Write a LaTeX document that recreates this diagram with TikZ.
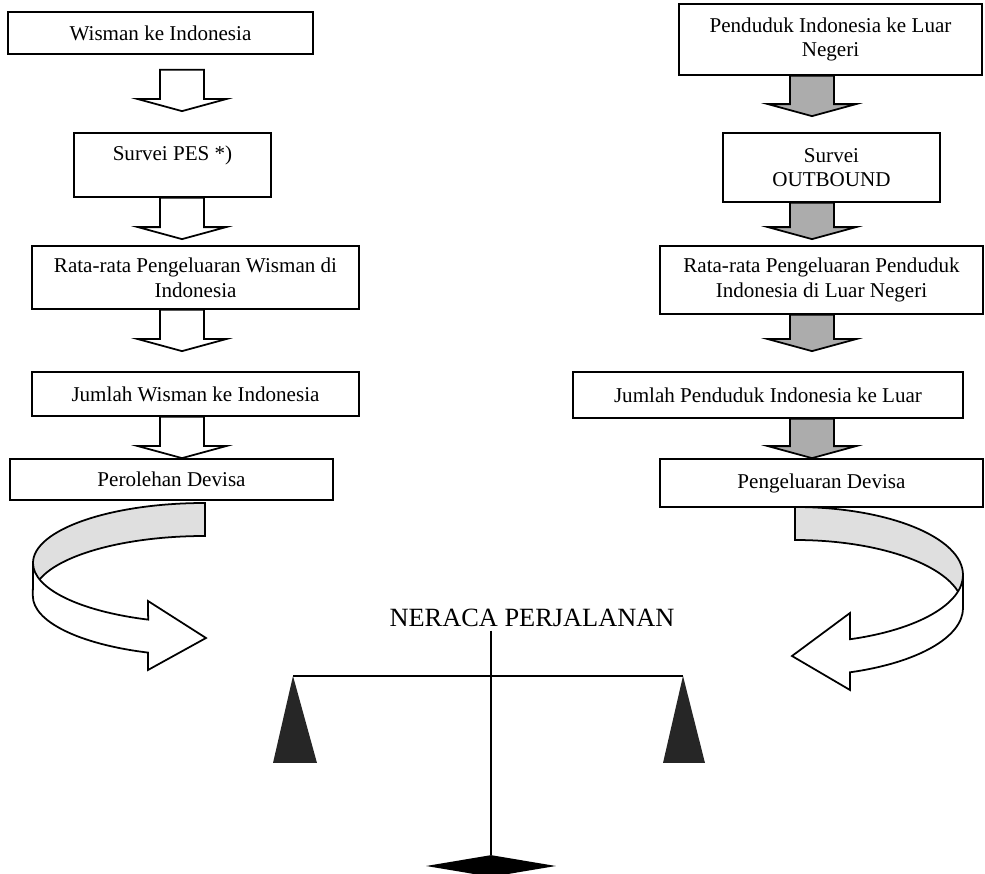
\documentclass[tikz,border=0pt]{standalone}
\usepackage{fontspec}
\setmainfont{Liberation Serif}
\usetikzlibrary{shapes.geometric, calc}

% block arrow from one box down to the next, in a fixed column
\newcommand{\blockarrow}[6][]{%
  \draw[barrow,#1] ($(#2.south -| #4)+(-22,#5)$) -- ($(#3.north -| #4)+(-22,-12-#6)$) -- ++(-22,0)
    -- ($(#3.north -| #4)+(0,-#6)$) -- ($(#3.north -| #4)+(44,-12-#6)$) -- ++(-22,0)
    -- ($(#2.south -| #4)+(22,#5)$) -- cycle;}

\begin{document}
\begin{tikzpicture}[x=0.02cm, y=-0.02cm,
    box/.style={draw, line width=1pt, fill=white, inner sep=0pt, align=center, font=\fontsize{12}{14}\selectfont},
    barrow/.style={draw, line width=1pt, fill=white, line join=miter},
    shaded/.style={fill=gray!65},
    back/.style={draw, line width=1pt, fill=gray!25},
    front/.style={draw, line width=1pt, fill=white},
    judul/.style={font=\fontsize{15}{17}\selectfont, inner sep=2pt}
]
    \useasboundingbox (0,0) rectangle (985,874);

    \coordinate (colL) at (182,0);
    \coordinate (colR) at (812,0);

    % curved arrows into the balance
    \draw[back] (205,503) arc[start angle=270, end angle=180, x radius=172, y radius=60]
        -- ++(0,33) arc[start angle=180, end angle=270, x radius=172, y radius=60] -- cycle;
    \draw[front] (33,563) arc[start angle=180, end angle=109.3, x radius=172, y radius=60]
        -- (148,601) -- (206,638) -- (148,670) -- (148,652.6)
        arc[start angle=109.3, end angle=180, x radius=172, y radius=60] -- cycle;

    \draw[back] (795,507) arc[start angle=270, end angle=360, x radius=168, y radius=68]
        -- ++(0,33) arc[start angle=360, end angle=270, x radius=168, y radius=68] -- cycle;
    \draw[front] (963,575) arc[start angle=0, end angle=70.9, x radius=168, y radius=68]
        -- (850,613) -- (792,656) -- (850,690) -- (850,672.3)
        arc[start angle=70.9, end angle=0, x radius=168, y radius=68] -- cycle;

    % left column
    \node[box, minimum width=6.1cm, minimum height=0.84cm] (wis) at (160.5,33) {Wisman ke Indonesia};
    \node[box, minimum width=3.94cm, minimum height=1.28cm] (pes) at (172.5,165) {Survei PES *)\\\mbox{}};
    \node[box, minimum width=6.54cm, minimum height=1.26cm] (rataw) at (195.5,277.5) {Rata-rata Pengeluaran Wisman di\\Indonesia};
    \node[box, minimum width=6.54cm, minimum height=0.88cm] (jmlw) at (195.5,394) {Jumlah Wisman ke Indonesia};
    \node[box, minimum width=6.46cm, minimum height=0.82cm] (oleh) at (171.5,479.5) {Perolehan Devisa};

    % right column
    \node[box, minimum width=6.06cm, minimum height=1.42cm] (pend) at (830.5,39.5) {Penduduk Indonesia ke Luar\\Negeri};
    \node[box, minimum width=4.34cm, minimum height=1.38cm] (outb) at (831.5,167.5) {Survei\\OUTBOUND};
    \node[box, minimum width=6.46cm, minimum height=1.36cm] (ratap) at (821.5,280) {Rata-rata Pengeluaran Penduduk\\Indonesia di Luar Negeri};
    \node[box, minimum width=7.8cm, minimum height=0.92cm] (jmlp) at (768,395) {Jumlah Penduduk Indonesia ke Luar};
    \node[box, minimum width=6.46cm, minimum height=0.96cm] (keluar) at (821.5,483) {Pengeluaran Devisa};

    \blockarrow{wis}{pes}{colL}{15}{21}
    \blockarrow{pes}{rataw}{colL}{0}{6}
    \blockarrow{rataw}{jmlw}{colL}{0}{20}
    \blockarrow{jmlw}{oleh}{colL}{0}{0}

    \blockarrow[shaded]{pend}{outb}{colR}{0}{16}
    \blockarrow[shaded]{outb}{ratap}{colR}{0}{6}
    \blockarrow[shaded]{ratap}{jmlp}{colR}{0}{20}
    \blockarrow[shaded]{jmlp}{keluar}{colR}{0}{0}

    % balance
    \node[judul] (neraca) at (532,618) {NERACA PERJALANAN};
    \node[diamond, fill=black, inner sep=0pt, minimum width=2.6cm, minimum height=0.44cm] (kaki) at (491,866) {};
    \coordinate (bl) at (293,676);
    \coordinate (br) at (683,676);
    \draw[line width=1pt] (neraca.south -| kaki) -- (kaki.north);
    \draw[line width=1pt] (bl) -- (br);
    \fill[black!85] (bl) -- ++(-20,87) -- ++(44,0) -- cycle;
    \fill[black!85] (br) -- ++(-20,87) -- ++(42,0) -- cycle;
\end{tikzpicture}
\end{document}
